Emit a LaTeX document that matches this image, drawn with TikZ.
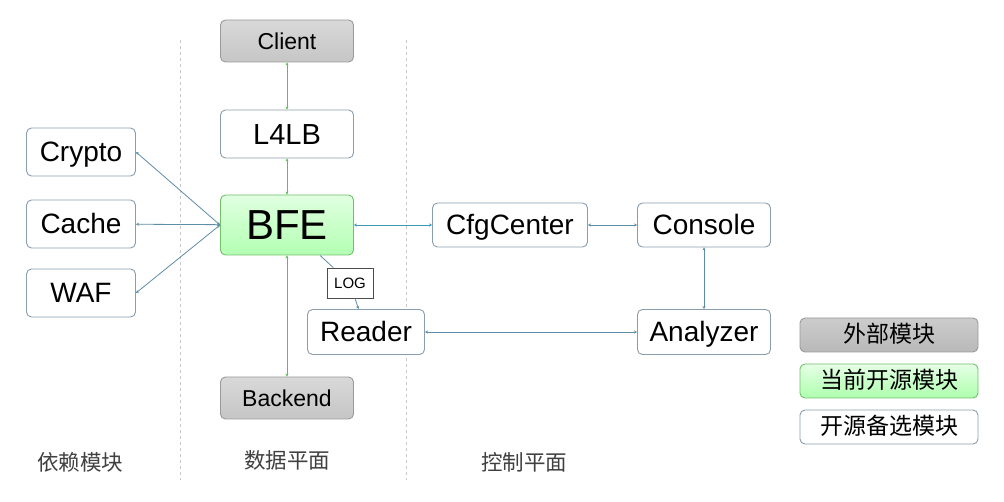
\documentclass[tikz,border=0pt]{standalone}
\usepackage{fontspec}
\setmainfont{Liberation Sans}
\newfontfamily\cjk{Noto Sans CJK SC}
\usetikzlibrary{arrows.meta}
\definecolor{boxline}{HTML}{8A9DAE}
\definecolor{grayline}{HTML}{9A9A9A}
\definecolor{greenline}{HTML}{5CC05A}
\definecolor{grnedge}{HTML}{72C06C}
\definecolor{bluecon}{HTML}{5E8DA8}
\definecolor{tealcon}{HTML}{3F9AAE}
\definecolor{sepline}{HTML}{C8C8C8}
\tikzset{
  base/.style={rounded corners=5pt, line width=0.9pt, inner sep=0pt, align=center, text depth=0pt},
  wbox/.style={base, text height=20pt, draw=boxline, fill=white, minimum width=109pt, minimum height=48pt, font=\fontsize{28}{32}\selectfont},
  gbox/.style={base, text height=16.5pt, draw=grayline, top color=gray!30, bottom color=gray!45, minimum width=133pt, minimum height=42pt, font=\fontsize{23}{26}\selectfont},
  legbox/.style={base, text height=18pt, text depth=2pt, minimum width=178pt, minimum height=34pt, font=\cjk\fontsize{23}{26}\selectfont},
  conn/.style={line width=0.8pt, draw=bluecon, {Stealth[length=3pt,width=3pt]}-{Stealth[length=3pt,width=3pt]}},
  gconn/.style={conn, draw=greenline},
  sep/.style={draw=sepline, line width=0.8pt, dash pattern=on 3pt off 3pt},
  lab/.style={font=\cjk\fontsize{21.5}{24}\selectfont, text=black!75}
}
\begin{document}
\begin{tikzpicture}[x=1pt,y=-1pt]
\useasboundingbox (0,0) rectangle (1004,502);
\fill[white] (0,0) rectangle (1004,502);
% separators
\draw[sep] (180,40) -- (180,480);
\draw[sep] (406,40) -- (406,480);
% data plane
\node[gbox] (client) at (287,41) {Client};
\node[wbox, minimum width=133pt, font=\fontsize{29}{32}\selectfont, text height=20.8pt] (l4lb) at (287,134) {L4LB};
\node[base, text height=30pt, draw=grnedge, top color=green!12, bottom color=green!30!white, minimum width=133pt, minimum height=60pt, font=\fontsize{42}{46}\selectfont] (bfe) at (287,225) {BFE};
\node[gbox] (backend) at (287,398) {Backend};
% dependencies
\node[wbox] (crypto) at (81,152) {Crypto};
\node[wbox] (cache) at (81,224) {Cache};
\node[wbox] (waf) at (81,293) {WAF};
% control plane
\node[wbox, minimum width=155pt, minimum height=44pt] (cfg) at (510,225) {CfgCenter};
\node[wbox, minimum width=133pt, minimum height=44pt] (console) at (704,225) {Console};
\node[wbox, minimum width=117pt, minimum height=45pt] (reader) at (366,332) {Reader};
\node[wbox, minimum width=133pt, minimum height=45pt] (analyzer) at (704,332) {Analyzer};
\node[draw=black!70, line width=0.8pt, fill=white, minimum width=46pt, minimum height=30pt, inner sep=0pt, text height=10.7pt, text depth=0pt, font=\fontsize{15}{17}\selectfont] (log) at (350,283) {LOG};
% connectors
\draw[gconn] (client) -- (l4lb);
\draw[gconn] (l4lb) -- (bfe);
\draw[gconn] (bfe) -- (backend);
\draw[conn] (crypto.east) -- (bfe.west);
\draw[conn] (cache) -- (bfe);
\draw[conn] (waf.east) -- (bfe.west);
\draw[conn, draw=tealcon] (bfe) -- (cfg);
\draw[conn] (cfg) -- (console);
\draw[conn] (console) -- (analyzer);
\draw[conn] (reader) -- (analyzer);
\draw[conn, -] (bfe) -- (log);
\draw[conn, -{Stealth[length=3pt,width=3pt]}] (log) -- (reader);
% legend
\node[legbox, draw=grayline, top color=gray!40, bottom color=gray!55] (lext) at (889,335) {外部模块};
\node[legbox, draw=grnedge, top color=green!10, bottom color=green!32!white] (lcur) at (889,381) {当前开源模块};
\node[legbox, draw=boxline, fill=white] (lalt) at (889,427) {开源备选模块};
% bottom labels
\node[lab] (ldep) at (80,462) {依赖模块};
\node[lab] (ldata) at (287,460) {数据平面};
\node[lab] (lctrl) at (524,462) {控制平面};
\end{tikzpicture}
\end{document}
